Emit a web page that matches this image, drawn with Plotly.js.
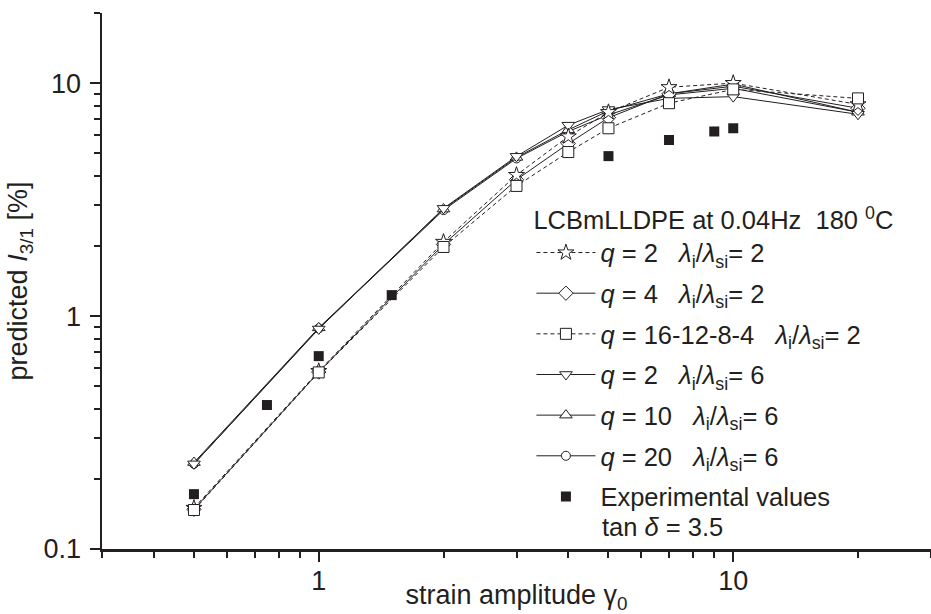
<!DOCTYPE html>
<html><head><meta charset="utf-8">
<script src="https://cdn.plot.ly/plotly-3.0.1.min.js"></script>
<style>html,body{margin:0;padding:0;background:#fff;} #chart{width:931px;height:614px;}</style>
</head><body><div id="chart"></div>
<script>
// strain amplitudes of the model predictions
const strainModel = [0.5, 1, 2, 3, 4, 5, 7, 10, 20];
// predicted I3/1 [%]
const q2_L2   = [0.150, 0.580, 2.08, 4.03, 5.90, 7.50, 9.60, 10.0, 8.10];
const q4_L2   = [0.148, 0.575, 2.03, 3.85, 5.50, 7.10, 9.00, 9.70, 7.80];
const q16_L2  = [0.147, 0.573, 1.98, 3.62, 5.06, 6.40, 8.20, 9.40, 8.60];
const q2_L6   = [0.232, 0.880, 2.90, 4.85, 6.60, 7.70, 8.60, 8.75, 7.35];
const q10_L6  = [0.235, 0.890, 2.88, 4.80, 6.30, 7.60, 9.00, 9.90, 7.50];
const q20_L6  = [0.232, 0.885, 2.85, 4.75, 6.20, 7.30, 8.90, 9.50, 7.50];
// experimental values
const strainExp = [0.5, 0.75, 1, 1.5, 5, 7, 9, 10];
const expValues = [0.172, 0.415, 0.673, 1.23, 4.86, 5.70, 6.20, 6.40];

const NB = '\u00a0';
const lam = '<i>λ</i><sub>i</sub>/<i>λ</i><sub>si</sub>= ';
const names = [
  '<i>q</i> = 2' + NB+NB+NB + lam + '2',
  '<i>q</i> = 4' + NB+NB+NB + lam + '2',
  '<i>q</i> = 16-12-8-4' + NB+NB+NB + lam + '2',
  '<i>q</i> = 2' + NB+NB+NB + lam + '6',
  '<i>q</i> = 10' + NB+NB+NB + lam + '6',
  '<i>q</i> = 20' + NB+NB+NB + lam + '6',
  'Experimental values'
];
const ink = '#231f20';
const FF = 'Liberation Sans, Arial, sans-serif';

function model(y, name, symbol, dash, rank, size) {
  return {
    x: strainModel, y: y, name: name, type: 'scatter', mode: 'lines+markers',
    legendgroup: 'g' + rank, legendrank: rank,
    line: {color: ink, width: 1, dash: dash},
    marker: {symbol: symbol, size: size, color: '#ffffff', line: {color: ink, width: 1}}
  };
}

const traces = [
  model(q20_L6, names[5], 'circle', 'solid', 6, 9),
  model(q10_L6, names[4], 'triangle-up', 'solid', 5, 11),
  model(q2_L6,  names[3], 'triangle-down', 'solid', 4, 11),
  model(q4_L2,  names[1], 'diamond', 'solid', 2, 11),
  model(q2_L2,  names[0], 'star', '4px,3px', 1, 12),
  model(q16_L2, names[2], 'square', '4px,3px', 3, 11),
  {x: strainExp, y: expValues, name: names[6], type: 'scatter', mode: 'markers',
   legendgroup: 'g7', legendrank: 7,
   marker: {symbol: 'square', size: 10, color: ink, line: {width: 0}}}
];

const axisFont = {family: FF, size: 27, color: ink};

const layout = {
  width: 931, height: 614,
  margin: {l: 102, r: 0, t: 13, b: 65},
  paper_bgcolor: '#fff', plot_bgcolor: '#fff',
  font: {family: FF, color: ink},
  showlegend: true,
  legend: {
    x: 0.518, y: 0.658, xanchor: 'left', yanchor: 'top',
    bgcolor: 'rgba(0,0,0,0)', borderwidth: 0,
    font: {family: FF, size: 25.5, color: ink},
    title: {text: 'LCBmLLDPE at 0.04Hz' + NB + NB + '180 <sup>0</sup>C', font: {family: FF, size: 25.5, color: ink}},
    traceorder: 'grouped', tracegroupgap: 4.5, itemwidth: 59
  },
  xaxis: {
    type: 'log', range: [Math.log10(0.3), Math.log10(30)],
    showline: true, linecolor: ink, linewidth: 2.5, mirror: false,
    showgrid: false, zeroline: false,
    ticks: 'outside', ticklen: 10, tickwidth: 2, tickcolor: ink,
    dtick: 1, tickfont: axisFont, ticklabelstandoff: -4,
    minor: {ticks: 'outside', ticklen: 6, tickwidth: 2, tickcolor: ink, dtick: 'D1', showgrid: false},
    title: {text: 'strain amplitude γ<sub>0</sub>', font: axisFont, standoff: 0},
    automargin: false
  },
  yaxis: {
    type: 'log', range: [-1, Math.log10(20)],
    showline: true, linecolor: ink, linewidth: 2.5, mirror: false,
    showgrid: false, zeroline: false,
    ticks: 'outside', ticklen: 10, tickwidth: 2, tickcolor: ink,
    dtick: 1, tickfont: axisFont, ticklabelstandoff: 3,
    minor: {ticks: 'outside', ticklen: 6, tickwidth: 2, tickcolor: ink, dtick: 'D1', showgrid: false},
    title: {text: 'predicted <i>I</i><sub>3/1</sub> [%]', font: {family: FF, size: 27, color: ink}, standoff: 8},
    automargin: false
  },
  annotations: [{
    xref: 'paper', yref: 'paper', x: 0.601, y: 0.041, xanchor: 'left', yanchor: 'middle',
    text: 'tan <i>δ</i> = 3.5', showarrow: false, font: {family: FF, size: 25.5, color: ink}
  }]
};

Plotly.newPlot('chart', traces, layout, {displayModeBar: false, staticPlot: true});
</script>
</body></html>
